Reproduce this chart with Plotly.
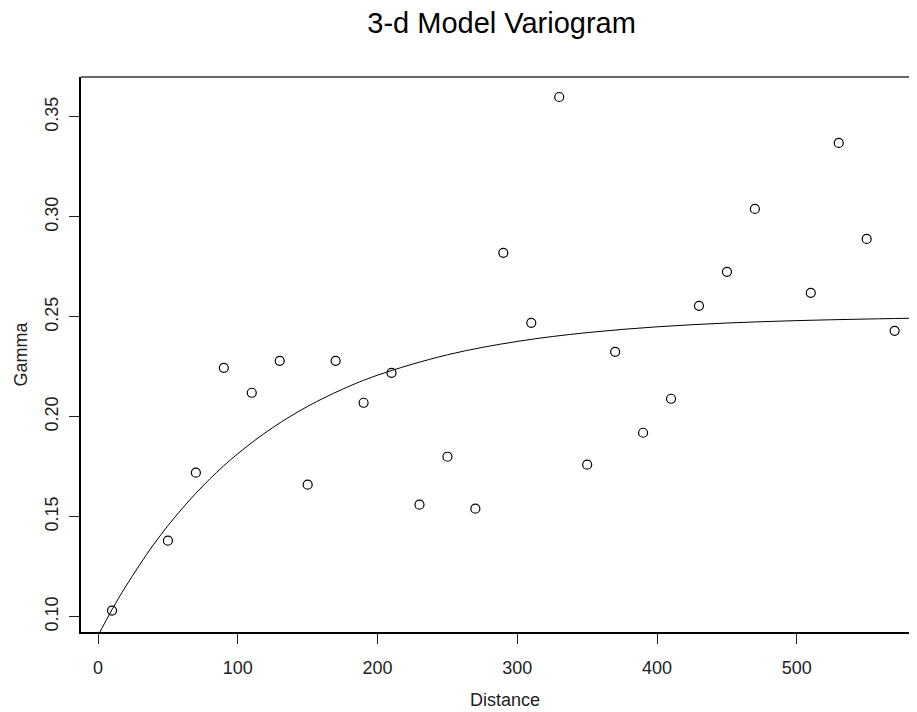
import plotly.graph_objects as go

distance = [10, 50, 70, 90, 110, 130, 150, 170, 190, 210, 230, 250, 270, 290,
            310, 330, 350, 370, 390, 410, 430, 450, 470, 510, 530, 550, 570]
gamma = [0.103, 0.138, 0.172, 0.2245, 0.212, 0.228, 0.166, 0.228, 0.207, 0.222,
         0.156, 0.180, 0.154, 0.282, 0.247, 0.360, 0.176, 0.2325, 0.192, 0.209,
         0.2555, 0.2725, 0.304, 0.262, 0.337, 0.289, 0.243]

# Model curve
model_dist = [0, 10, 20, 40, 60, 80, 100, 125, 150, 175, 200, 250, 300, 350,
              400, 450, 500, 550, 600]
model_gamma = [0.0905, 0.1035, 0.1153, 0.1363, 0.1539, 0.1689, 0.1815, 0.1946,
               0.2052, 0.2138, 0.2208, 0.2310, 0.2377, 0.2421, 0.2450, 0.2469,
               0.2481, 0.2489, 0.2495]

x_ticks = [0, 100, 200, 300, 400, 500]
y_ticks = [0.10, 0.15, 0.20, 0.25, 0.30, 0.35]
y_tick_text = ["0.10", "0.15", "0.20", "0.25", "0.30", "0.35"]

FONT = "Liberation Sans, Arial, sans-serif"
INK = "#222222"

fig = go.Figure()
fig.add_trace(go.Scatter(
    x=model_dist, y=model_gamma, mode="lines", line_shape="spline",
    line=dict(color="black", width=1), hoverinfo="skip", showlegend=False))
fig.add_trace(go.Scatter(
    x=distance, y=gamma, mode="markers",
    marker=dict(symbol="circle-open", size=9, color="black", line=dict(width=1.2, color="black")),
    showlegend=False))

fig.update_layout(
    width=909, height=704,
    margin=dict(l=73, r=0, t=69, b=80),
    paper_bgcolor="white", plot_bgcolor="white",
    font=dict(family=FONT, color=INK),
    title=dict(text="3-d Model Variogram", x=0.543, xanchor="center",
               y=0.979, yanchor="middle",
               font=dict(family=FONT, size=29, color="black")),
    xaxis=dict(range=[-12.2, 586], tickvals=x_ticks, ticks="outside", ticklen=10,
               tickcolor=INK, tickwidth=1, showgrid=False, zeroline=False,
               showline=True, linecolor="black", linewidth=2, automargin=False,
               tickfont=dict(size=18, color=INK),
               ticklabelstandoff=8),
    yaxis=dict(range=[0.0923, 0.37], tickvals=y_ticks, ticktext=y_tick_text,
               ticks="outside", ticklen=10, tickcolor=INK, tickwidth=1,
               tickangle=-90, showgrid=False, zeroline=False,
               showline=True, linecolor="black", linewidth=2, automargin=False,
               tickfont=dict(size=18, color=INK),
               ticklabelstandoff=4,
               title=dict(text="Gamma", font=dict(size=18, color=INK), standoff=9)),
    annotations=[dict(text="Distance", xref="paper", yref="paper",
                      x=0.507, y=-0.122, xanchor="center", yanchor="middle",
                      showarrow=False, font=dict(family=FONT, size=18, color=INK))],
    shapes=[dict(type="line", xref="paper", yref="paper", x0=0, x1=1, y0=1, y1=1,
                 line=dict(color="#333333", width=1.3))],
)

fig.write_html("out.html")
